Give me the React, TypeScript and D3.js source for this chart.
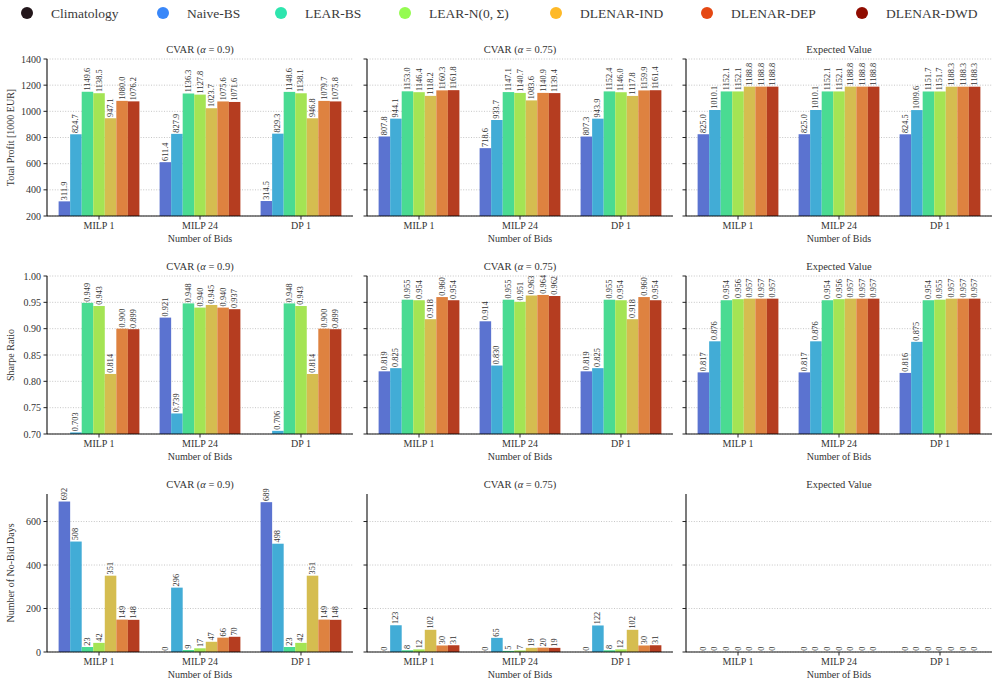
import React from "react";
import * as d3 from "d3";

// ---------- DATA ----------
const methods = ["Climatology", "Naive-BS", "LEAR-BS", "LEAR-N(0, Σ)", "DLENAR-IND", "DLENAR-DEP", "DLENAR-DWD"];
const groups = ["MILP 1", "MILP 24", "DP 1"];
const panelTitles = ["CVAR", "CVAR", "Expected Value"];
const alphas = ["0.9", "0.75", null];

// Total profit [1000 EUR]
const profitCvar90 = [
  [311.9, 824.7, 1149.6, 1138.5, 947.1, 1080.0, 1076.2],
  [611.4, 827.9, 1136.3, 1127.8, 1023.7, 1075.6, 1071.6],
  [314.5, 829.3, 1148.6, 1138.1, 946.8, 1079.7, 1075.8],
];
const profitCvar75 = [
  [807.8, 944.1, 1153.0, 1146.4, 1118.2, 1160.3, 1161.8],
  [718.6, 933.7, 1147.1, 1140.7, 1083.6, 1140.9, 1139.4],
  [807.3, 943.9, 1152.4, 1146.0, 1117.8, 1159.9, 1161.4],
];
const profitEV = [
  [825.0, 1010.1, 1152.1, 1152.1, 1188.8, 1188.8, 1188.8],
  [825.0, 1010.1, 1152.1, 1152.1, 1188.8, 1188.8, 1188.8],
  [824.5, 1009.6, 1151.7, 1151.7, 1188.3, 1188.3, 1188.3],
];

// Sharpe ratio
const sharpeCvar90 = [
  [null, 0.703, 0.949, 0.943, 0.814, 0.900, 0.899],
  [0.921, 0.739, 0.948, 0.940, 0.945, 0.940, 0.937],
  [null, 0.706, 0.948, 0.943, 0.814, 0.900, 0.899],
];
const sharpeCvar75 = [
  [0.819, 0.825, 0.955, 0.954, 0.918, 0.960, 0.954],
  [0.914, 0.830, 0.955, 0.951, 0.963, 0.964, 0.962],
  [0.819, 0.825, 0.955, 0.954, 0.918, 0.960, 0.954],
];
const sharpeEV = [
  [0.817, 0.876, 0.954, 0.956, 0.957, 0.957, 0.957],
  [0.817, 0.876, 0.954, 0.956, 0.957, 0.957, 0.957],
  [0.816, 0.875, 0.954, 0.955, 0.957, 0.957, 0.957],
];

// Number of no-bid days
const noBidCvar90 = [
  [692, 508, 23, 42, 351, 149, 148],
  [0, 296, 9, 17, 47, 66, 70],
  [689, 498, 23, 42, 351, 149, 148],
];
const noBidCvar75 = [
  [0, 123, 8, 12, 102, 30, 31],
  [0, 65, 5, 7, 19, 20, 19],
  [0, 122, 8, 12, 102, 30, 31],
];
const noBidEV = [
  [0, 0, 0, 0, 0, 0, 0],
  [0, 0, 0, 0, 0, 0, 0],
  [0, 0, 0, 0, 0, 0, 0],
];

const profitTicks = [200, 400, 600, 800, 1000, 1200, 1400];
const sharpeTicks = [0.7, 0.75, 0.8, 0.85, 0.9, 0.95, 1.0];
const noBidTicks = [0, 200, 400, 600];

// ---------- STYLE ----------
const barColors = ["#5b73d0", "#42acd6", "#4adb92", "#a4e454", "#d5bd50", "#de8240", "#b53d20"];
const legendColors = methods.map((_, i) => d3.interpolateTurbo(i / (methods.length - 1)));
const FONT = "'Liberation Serif', 'Times New Roman', serif";
const TXT = "#333";
const fontStyle = { fontFamily: FONT };

const rows = [
  { label: "Total Profit [1000 EUR]", data: [profitCvar90, profitCvar75, profitEV], domain: [200, 1400], ticks: profitTicks, fmt: d3.format(".1f"), tickFmt: d3.format("d"), top: 59, bottom: 216 },
  { label: "Sharpe Ratio", data: [sharpeCvar90, sharpeCvar75, sharpeEV], domain: [0.7, 1.0], ticks: sharpeTicks, fmt: d3.format(".3f"), tickFmt: d3.format(".2f"), top: 276, bottom: 434 },
  { label: "Number of No-Bid Days", data: [noBidCvar90, noBidCvar75, noBidEV], domain: [0, 692 * 1.05], ticks: noBidTicks, fmt: d3.format("d"), tickFmt: d3.format("d"), top: 494, bottom: 652 },
];
const colLefts = [47, 367, 686];
const panelW = 306;

function Panel({ row, col, rowIdx }) {
  const left = colLefts[col];
  const right = left + panelW;
  const x = d3.scaleLinear().domain([-0.515, 2.515]).range([left, right]);
  const y = d3.scaleLinear().domain(row.domain).range([row.bottom, row.top]);
  const data = row.data[col];
  const nH = methods.length;
  const bw = 0.8 / nH;
  const clipId = `clip-${rowIdx}-${col}`;
  const alpha = alphas[col];
  return (
    <g>
      <defs>
        <clipPath id={clipId}>
          <rect x={left} y={row.top - 40} width={panelW} height={row.bottom - row.top + 40} />
        </clipPath>
      </defs>
      {/* grid */}
      {row.ticks.map((t) => (
        <line key={"g" + t} x1={left} x2={right} y1={y(t)} y2={y(t)} stroke="#b8b8b8" strokeWidth={0.8} strokeDasharray="1,1.6" />
      ))}
      {/* bars */}
      <g clipPath={`url(#${clipId})`}>
        {data.map((vals, gi) =>
          vals.map((v, hi) => {
            if (v == null) return null;
            const x0 = x(gi - 0.4 + hi * bw);
            const x1 = x(gi - 0.4 + (hi + 1) * bw);
            const yv = y(v);
            return <rect key={`b${gi}-${hi}`} x={x0} y={yv} width={x1 - x0} height={Math.max(0, row.bottom - yv)} fill={barColors[hi]} />;
          })
        )}
      </g>
      {/* value labels */}
      {data.map((vals, gi) =>
        vals.map((v, hi) => {
          if (v == null || v < row.domain[0]) return null;
          const cx = x(gi - 0.4 + (hi + 0.5) * bw);
          return (
            <text key={`l${gi}-${hi}`} transform={`translate(${cx},${y(v) - 1.2}) rotate(-90)`} fontSize={8.4} fill={TXT} style={fontStyle} textAnchor="start" dominantBaseline="central">
              {row.fmt(v)}
            </text>
          );
        })
      )}
      {/* spines */}
      <line x1={left} x2={left} y1={row.top} y2={row.bottom} stroke="#222" strokeWidth={1.2} />
      <line x1={left} x2={right} y1={row.bottom} y2={row.bottom} stroke="rgba(0,0,0,0.62)" strokeWidth={1.6} />
      {/* y ticks */}
      {row.ticks.map((t) => (
        <g key={"yt" + t}>
          <line x1={left - 3.5} x2={left} y1={y(t)} y2={y(t)} stroke="#222" strokeWidth={1} />
          {col === 0 && (
            <text x={left - 6} y={y(t)} textAnchor="end" dominantBaseline="central" fontSize={10} fill={TXT} style={fontStyle}>
              {row.tickFmt(t)}
            </text>
          )}
        </g>
      ))}
      {/* x ticks */}
      {groups.map((g, gi) => (
        <g key={"xt" + g}>
          <line x1={x(gi)} x2={x(gi)} y1={row.bottom} y2={row.bottom + 3.5} stroke="#222" strokeWidth={1} />
          <text x={x(gi)} y={row.bottom + 13} textAnchor="middle" fontSize={10} fill={TXT} style={fontStyle}>
            {g}
          </text>
        </g>
      ))}
      <text x={(left + right) / 2} y={row.bottom + 26} textAnchor="middle" fontSize={10} fill={TXT} style={fontStyle}>
        Number of Bids
      </text>
      {/* title */}
      <text x={(left + right) / 2} y={row.top - 6} textAnchor="middle" fontSize={10.5} fill={TXT} style={fontStyle}>
        {alpha ? (
          <>
            {panelTitles[col]} (<tspan fontStyle="italic">α</tspan> = {alpha})
          </>
        ) : (
          panelTitles[col]
        )}
      </text>
      {col === 0 && (
        <text transform={`translate(14,${(row.top + row.bottom) / 2}) rotate(-90)`} textAnchor="middle" fontSize={10} fill={TXT} style={fontStyle}>
          {row.label}
        </text>
      )}
    </g>
  );
}

const legendCircleX = [27, 163, 281, 405, 556, 707, 862];

export default function App() {
  return (
    <svg width={996} height={686} style={{ position: "absolute", left: 0, top: 0, background: "#fff", fontFamily: FONT }}>
      <rect width={996} height={686} fill="#fff" />
      {methods.map((m, i) => (
        <g key={m}>
          <circle cx={legendCircleX[i]} cy={13} r={6} fill={legendColors[i]} />
          <text x={legendCircleX[i] + 24} y={13} dominantBaseline="central" fontSize={13.5} fill="#3a3a3a" style={fontStyle}>
            {m}
          </text>
        </g>
      ))}
      {rows.map((row, ri) => [0, 1, 2].map((c) => <Panel key={`${ri}-${c}`} row={row} col={c} rowIdx={ri} />))}
    </svg>
  );
}
